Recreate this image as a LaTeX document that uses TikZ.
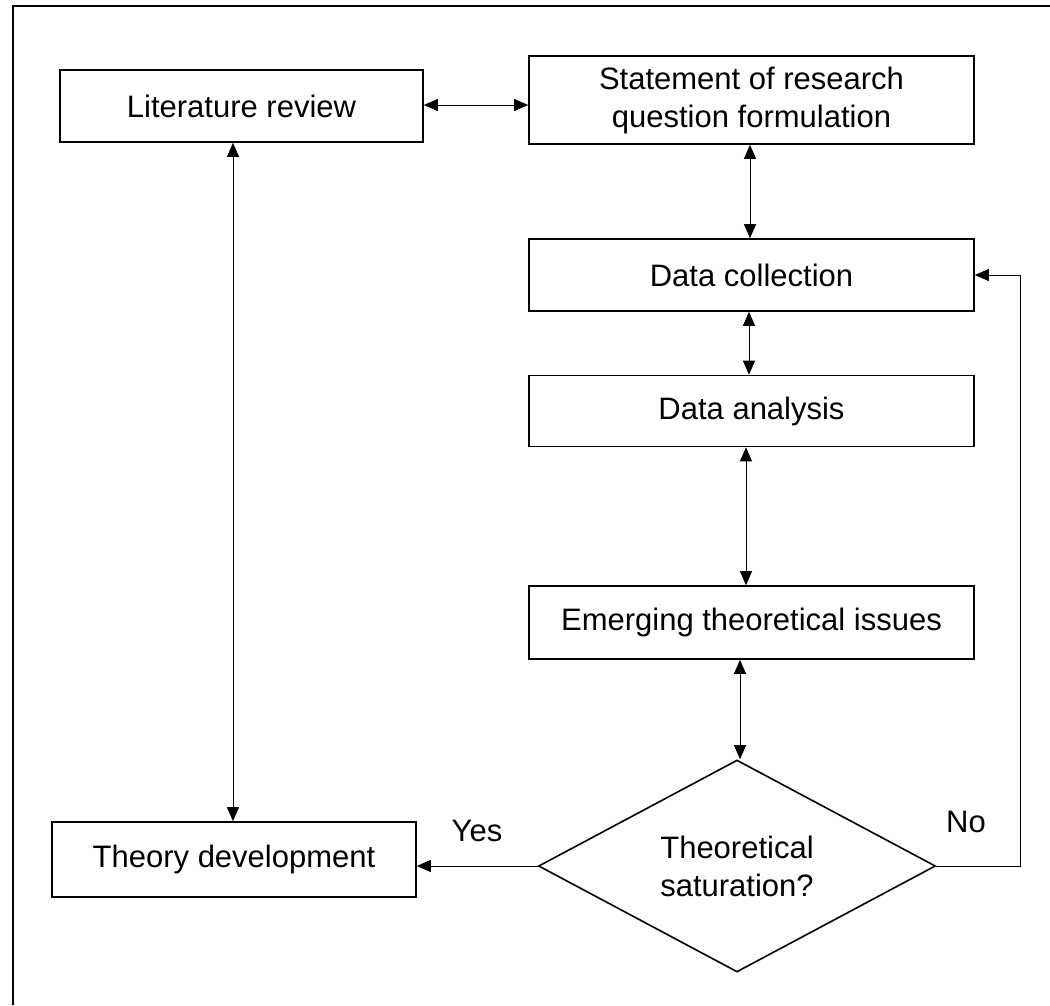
\documentclass[tikz,border=0pt]{standalone}
\usepackage{fontspec}
\setmainfont{Liberation Sans}
\usetikzlibrary{arrows.meta,shapes.geometric}
\begin{document}
\begin{tikzpicture}[x=1pt,y=-1pt,
  every node/.style={font=\fontsize{31}{38}\selectfont},
  stepbox/.style={draw, line width=1.6pt, inner sep=0pt, align=center},
  decision/.style={draw, diamond, line width=1.6pt, inner sep=0pt, align=center},
  tip/.tip={Triangle[length=14pt,width=12pt]},
  link/.style={line width=0.9pt, {tip}-{tip}},
  onelink/.style={line width=0.9pt, -{tip}},
  lbl/.style={inner sep=0pt}]
\useasboundingbox (0,0) rectangle (1050,1005);
% frame (top and left edges)
\draw[line width=1.8pt] (13,1005) -- (13,6) -- (1050,6);

% process boxes
\node[stepbox, minimum width=363pt, minimum height=72pt] (lit) at (241.5,106) {Literature review};
\node[stepbox, minimum width=445pt, minimum height=88pt] (stmt) at (751.5,100) {Statement of research\\question formulation};
\node[stepbox, minimum width=445pt, minimum height=72pt] (dc) at (751.5,275) {Data collection};
\node[stepbox, minimum width=445pt, minimum height=71pt] (da) at (751.5,411) {Data analysis};
\node[stepbox, minimum width=445pt, minimum height=73pt] (em) at (751.5,622.5) {Emerging theoretical issues};
\node[decision, minimum width=397pt, minimum height=212pt, aspect=1.87] (sat) at (737,866) {Theoretical\\saturation?};
\node[stepbox, minimum width=364pt, minimum height=75pt] (th) at (234,859.5) {Theory development};

% connectors
\draw[link] (lit.east |- 0,105) -- (stmt.west |- 0,105);
\draw[link] (lit.south -| 233,0) -- (th.north -| 233,0);
\draw[link] (stmt.south -| 750,0) -- (dc.north -| 750,0);
\draw[link] (dc.south -| 749,0) -- (da.north -| 749,0);
\draw[link] (da.south -| 746,0) -- (em.north -| 746,0);
\draw[link] (em.south -| 740,0) -- (sat.north -| 740,0);
\draw[onelink] (sat.west) -- (th.east |- sat.west);
\coordinate (back) at (1020,0);
\draw[onelink] (sat.east) -- (sat.east -| back) |- (dc.east);

% branch labels
\node[lbl] (yes) at (477,831) {Yes};
\node[lbl] (no) at (966,822) {No};
\end{tikzpicture}
\end{document}
